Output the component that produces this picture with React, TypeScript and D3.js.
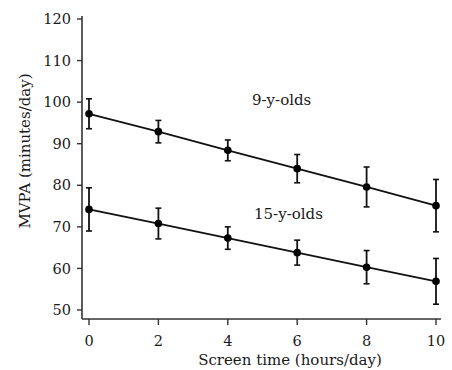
import React from "react";
import * as d3 from "d3";

const screenHours = [0, 2, 4, 6, 8, 10];
const nineMean = [97.2, 92.9, 88.4, 84.0, 79.6, 75.1];
const nineErr = [3.6, 2.7, 2.5, 3.4, 4.8, 6.3];
const fifteenMean = [74.2, 70.8, 67.3, 63.8, 60.3, 56.9];
const fifteenErr = [5.2, 3.7, 2.7, 3.0, 4.0, 5.5];
const yTicks = [50, 60, 70, 80, 90, 100, 110, 120];
const xTicks = [0, 2, 4, 6, 8, 10];
const seriesLabels = ["9-y-olds", "15-y-olds"];

const W = 452;
const H = 370;
const FONT = "DejaVu Serif";
const INK = "#1a1a1a";

export default function App() {
  const x = d3.scaleLinear().domain([0, 10]).range([89, 436]);
  const y = d3.scaleLinear().domain([50, 120]).range([310, 19]);
  const axisX0 = 82;
  const axisY0 = 319;

  const series = [
    { mean: nineMean, err: nineErr, label: seriesLabels[0], tx: 252, ty: 105 },
    { mean: fifteenMean, err: fifteenErr, label: seriesLabels[1], tx: 254, ty: 219 },
  ];
  const line = d3
    .line<number>()
    .x((_, i) => x(screenHours[i]))
    .y((d) => y(d));

  return (
    <svg
      width={W}
      height={H}
      style={{ position: "absolute", left: 0, top: 0, background: "#fff" }}
      fontFamily={FONT}
    >
      <line x1={axisX0} x2={axisX0} y1={16} y2={axisY0} stroke="#333" strokeWidth={1.6} />
      <line x1={axisX0} x2={441} y1={axisY0} y2={axisY0} stroke="#333" strokeWidth={1.6} />
      {yTicks.map((t) => (
        <g key={"y" + t}>
          <line x1={axisX0 - 5} x2={axisX0} y1={y(t)} y2={y(t)} stroke="#333" strokeWidth={1.4} />
          <text x={axisX0 - 11} y={y(t)} dy="0.35em" textAnchor="end" fontSize={14.5} fill={INK}>
            {t}
          </text>
        </g>
      ))}
      {xTicks.map((t) => (
        <g key={"x" + t}>
          <line x1={x(t)} x2={x(t)} y1={axisY0} y2={axisY0 + 6} stroke="#333" strokeWidth={1.4} />
          <text x={x(t)} y={axisY0 + 27} textAnchor="middle" fontSize={14.5} fill={INK}>
            {t}
          </text>
        </g>
      ))}
      <text x={290} y={365} textAnchor="middle" fontSize={15} fill={INK}>
        Screen time (hours/day)
      </text>
      <text
        transform={`translate(30,151) rotate(-90)`}
        textAnchor="middle"
        fontSize={15}
        fill={INK}
      >
        MVPA (minutes/day)
      </text>

      {series.map((s, si) => (
        <g key={"s" + si}>
          <path d={line(s.mean) || ""} fill="none" stroke="#111" strokeWidth={1.8} />
          {s.mean.map((m, i) => {
            const cx = x(screenHours[i]);
            return (
              <g key={i}>
                <line x1={cx} x2={cx} y1={y(m - s.err[i])} y2={y(m + s.err[i])} stroke="#111" strokeWidth={1.8} />
                <line x1={cx - 3} x2={cx + 3} y1={y(m + s.err[i])} y2={y(m + s.err[i])} stroke="#111" strokeWidth={1.6} />
                <line x1={cx - 3} x2={cx + 3} y1={y(m - s.err[i])} y2={y(m - s.err[i])} stroke="#111" strokeWidth={1.6} />
                <circle cx={cx} cy={y(m)} r={3.8} fill="#000" />
              </g>
            );
          })}
          <text x={s.tx} y={s.ty} fontSize={15} fill={INK}>
            {s.label}
          </text>
        </g>
      ))}
    </svg>
  );
}
